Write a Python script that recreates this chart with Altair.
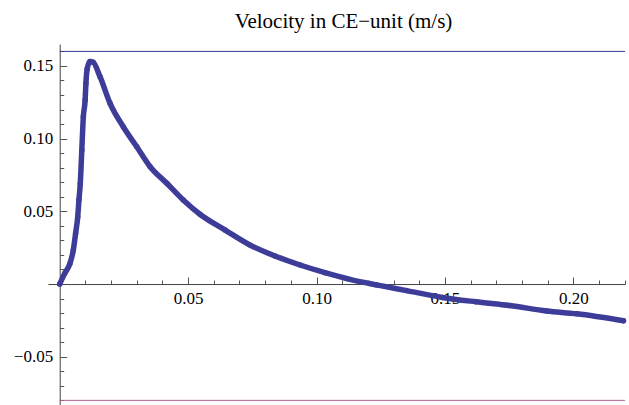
import altair as alt
import pandas as pd

# ---- data ----
t = [0.0, 0.002, 0.004, 0.0053, 0.0062, 0.0070, 0.0075, 0.0080, 0.0086, 0.0092,
     0.0099, 0.0102, 0.0107, 0.0118, 0.0130, 0.0157, 0.0196, 0.0248, 0.0300, 0.0352,
     0.0417, 0.0481, 0.0546, 0.0644, 0.0741, 0.0838, 0.0936, 0.1033, 0.1130, 0.1234,
     0.1350, 0.1490, 0.1620, 0.1753, 0.1896, 0.2013, 0.2195]
v = [0.0, 0.0075, 0.0142, 0.0234, 0.0350, 0.0460, 0.0580, 0.0690, 0.0920, 0.1150,
     0.1266, 0.1380, 0.1480, 0.1530, 0.1525, 0.1426, 0.1243, 0.1080, 0.0944, 0.0807,
     0.0693, 0.0578, 0.0480, 0.0371, 0.0268, 0.0193, 0.0131, 0.0078, 0.0032, -0.0006,
     -0.0045, -0.0092, -0.0122, -0.0148, -0.0185, -0.0205, -0.0253]

x_labels = [0.05, 0.10, 0.15, 0.20]
y_labels = [-0.05, 0.05, 0.10, 0.15]
x_ticks = [0.01, 0.02, 0.03, 0.04, 0.05, 0.06, 0.07, 0.08, 0.09, 0.10, 0.11,
           0.12, 0.13, 0.14, 0.15, 0.16, 0.17, 0.18, 0.19, 0.20, 0.21, 0.22]
y_ticks = [-0.08, -0.07, -0.06, -0.05, -0.04, -0.03, -0.02, -0.01,
           0.01, 0.02, 0.03, 0.04, 0.05, 0.06, 0.07, 0.08, 0.09, 0.10,
           0.11, 0.12, 0.13, 0.14, 0.15, 0.16]
levels = [0.16, -0.08]
level_colors = ["#3a3a96", "#b5609a"]
x_domain = [-0.00456, 0.2201]
y_domain = [-0.0832, 0.1651]
title_text = "Velocity in CE\u2212unit (m/s)"

BLUE = "#3d3d99"
FONT = "Liberation Serif"
W, H = 577, 361
x0 = (0 - x_domain[0]) / (x_domain[1] - x_domain[0]) * W
y0 = (y_domain[1] - 0) / (y_domain[1] - y_domain[0]) * H

df = pd.DataFrame({"t": t, "v": v, "i": list(range(len(t)))})
ref = pd.DataFrame({"level": levels, "color": level_colors,
                    "start": [0.0] * len(levels), "end": [x_domain[1]] * len(levels)})

xs = alt.Scale(domain=x_domain, nice=False, zero=False)
ys = alt.Scale(domain=y_domain, nice=False, zero=False)

major = {"condition": {"test": "abs(datum.value*20 - round(datum.value*20)) < 0.001", "value": 7}, "value": 4}

label_style = dict(labelFont=FONT, labelFontSize=17, labelColor="black", grid=False,
                   ticks=False, domainColor="#444444", domainWidth=1, title=None,
                   labelFlush=False, labelOverlap=False, format=".2f")

line = alt.Chart(df).mark_line(color=BLUE, strokeWidth=5.5, strokeCap="round",
                               strokeJoin="round", interpolate="monotone").encode(
    x=alt.X("t:Q", scale=xs, axis=alt.Axis(orient="bottom", offset=-(H - y0),
                                          values=x_labels, labelPadding=6, **label_style)),
    y=alt.Y("v:Q", scale=ys, axis=alt.Axis(orient="left", offset=-x0,
                                          values=y_labels, labelPadding=7, **label_style)),
    order="i:Q",
)

pts = alt.Chart(df).mark_circle(color=BLUE, size=30, opacity=1).encode(
    x=alt.X("t:Q", scale=xs, axis=None),
    y=alt.Y("v:Q", scale=ys, axis=None),
)

tick_style = dict(labels=False, domain=False, grid=False, title=None,
                  tickColor="#555555", tickWidth=1, tickSize=major)

rules = alt.Chart(ref).mark_rule(strokeWidth=1).encode(
    x=alt.X("start:Q", scale=xs, axis=alt.Axis(orient="top", offset=-y0,
                                              values=x_ticks, **tick_style)),
    x2="end:Q",
    y=alt.Y("level:Q", scale=ys, axis=alt.Axis(orient="right", offset=-(W - x0),
                                              values=y_ticks, **tick_style)),
    color=alt.Color("color:N", scale=None),
)

chart = alt.layer(rules, line, pts).resolve_axis(x="independent", y="independent").properties(
    width=W, height=H,
    title=alt.TitleParams(text=title_text, font=FONT, fontSize=21, fontWeight="normal",
                          color="black", anchor="middle", offset=12, dx=7),
    autosize=alt.AutoSizeParams(type="none"),
    padding={"left": 48, "top": 44, "right": 4, "bottom": 0},
    background="white",
).configure(font=FONT).configure_view(stroke=None).configure_axis(
    labelFont=FONT, labelFontSize=17, labelColor="black"
)

chart.save("out.html", embed_options={"renderer": "svg", "actions": False})
